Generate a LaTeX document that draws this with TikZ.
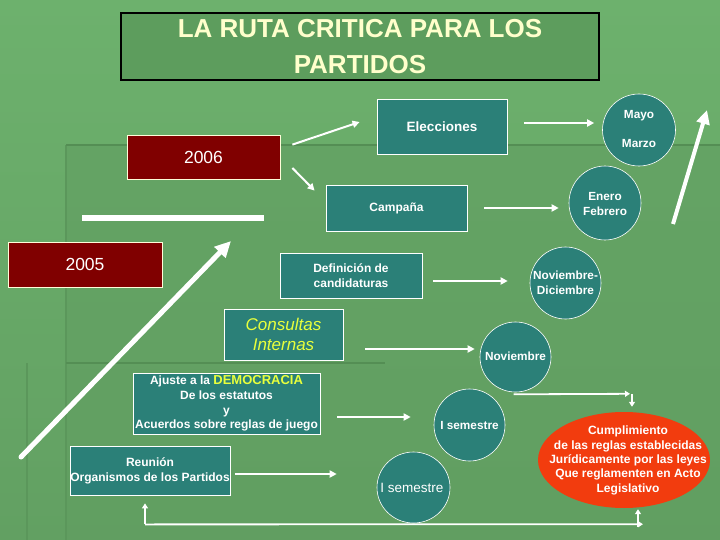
\documentclass[tikz,border=0pt]{standalone}
\usepackage{fontspec}
\setmainfont{Liberation Sans}
\usetikzlibrary{arrows.meta,shapes.geometric,calc}
\definecolor{bgtop}{HTML}{6DB16D}
\definecolor{bgbot}{HTML}{62A062}
\definecolor{panelc}{HTML}{619E61}
\definecolor{darkline}{HTML}{548E54}
\definecolor{fainted}{HTML}{5B975B}
\definecolor{tealbox}{HTML}{2B8078}
\definecolor{dred}{HTML}{800000}
\definecolor{rojo}{HTML}{F23C0E}
\definecolor{cream}{HTML}{FFFFCC}
\definecolor{yel}{HTML}{E8FF3C}
\definecolor{titlebg}{HTML}{5D9D5D}
\begin{document}
\begin{tikzpicture}[x=1pt,y=-1pt,
  titlebox/.style={draw=black, line width=2.5pt, fill=titlebg, minimum width=478pt, minimum height=67pt, inner sep=0pt, text=cream, align=center, font=\bfseries\fontsize{26}{36}\selectfont},
  box/.style={draw=white, line width=0.8pt, fill=tealbox, inner sep=0pt, text=white, align=center, font=\bfseries\fontsize{12}{15}\selectfont},
  yearbox/.style={draw=white!85!yellow, line width=0.8pt, fill=dred, text=white, inner sep=0pt, font=\fontsize{17.5}{20}\selectfont},
  ell/.style={ellipse, draw=white, line width=0.6pt, fill=tealbox, inner sep=0pt},
  etxt/.style={text=white, align=center, inner sep=0pt, font=\bfseries\fontsize{11.8}{15}\selectfont},
  arr/.style={draw=white, line width=2pt, -{Triangle[length=7pt,width=7pt]}},
  arrs/.style={draw=white, line width=1.8pt, -{Triangle[length=5pt,width=6pt]}},
  plain/.style={draw=white, line width=1.8pt},
]
% background
\useasboundingbox (0,0) rectangle (720,540);
\shade[top color=bgtop, bottom color=bgbot] (0,0) rectangle (720,540);
\fill[panelc, opacity=0.6] (66,145) rectangle (720,540);
\draw[fainted, line width=1.5pt] (66,145) -- (66,540);
\draw[fainted, line width=1.2pt] (27,363) -- (27,540);
\draw[darkline, line width=2.5pt] (66,145) -- (720,145);
\draw[darkline, line width=2pt] (66,363) -- (385,363);

% title
\node[titlebox] (title) at (360,46.5) {LA RUTA CRITICA PARA LOS\\PARTIDOS};

% year boxes
\node[yearbox, minimum width=153pt, minimum height=44pt] (y2006) at (203.5,157) {2006};
\node[yearbox, minimum width=154pt, minimum height=45pt] (y2005) at (85,264.5) {2005};

% activity boxes
\node[box, minimum width=130pt, minimum height=55pt, font=\bfseries\fontsize{13.5}{16}\selectfont] (elec) at (442,126.5) {Elecciones};
\node[box, minimum width=141pt, minimum height=46pt] (camp) at (396.5,208) {Campaña};
\node[box, minimum width=142pt, minimum height=45pt] (defi) at (351,275.5) {Definición de\\candidaturas};
\node[box, minimum width=119pt, minimum height=51pt, text=yel, font=\itshape\fontsize{17}{19.5}\selectfont] (cons) at (283.5,334.5) {Consultas\\Internas};
\node[box, minimum width=187pt, minimum height=61pt, font=\bfseries\fontsize{12}{14.7}\selectfont] (ajus) at (226.5,403.5) {Ajuste a la {\fontsize{13}{14.7}\selectfont\textcolor{yel}{DEMOCRACIA}}\\De los estatutos\\y\\Acuerdos sobre reglas de juego};
\node[box, minimum width=160pt, minimum height=49pt] (reun) at (150,470.5) {Reunión\\Organismos de los Partidos};

% ellipses
\node[ell, minimum width=73pt, minimum height=72pt] (mayo) at (639,130) {};
\node[etxt] (mayot) at (639,116) {Mayo};
\node[etxt] (marzot) at (639,144) {Marzo};
\node[ell, minimum width=72pt, minimum height=74pt] (enero) at (605,203) {};
\node[etxt] (enerot) at (605,203.5) {Enero\\Febrero};
\node[ell, minimum width=71pt, minimum height=72pt] (novdic) at (565.5,283) {};
\node[etxt] (novdict) at (565.5,282.5) {Noviembre-\\Diciembre};
\node[ell, minimum width=71pt, minimum height=70pt] (nov) at (515.5,357) {};
\node[etxt] (novt) at (515.5,356) {Noviembre};
\node[ell, minimum width=71pt, minimum height=72pt] (isem1) at (469.5,425) {};
\node[etxt] (isem1t) at (469.5,425) {I semestre};
\node[ell, minimum width=73pt, minimum height=71pt] (isem2) at (413.5,487.5) {};
\node[etxt, font=\fontsize{13.5}{16}\selectfont] (isem2t) at (412,488) {I semestre};
\node[ellipse, fill=rojo, inner sep=0pt, minimum width=172pt, minimum height=96pt] (red) at (624,460) {};
\node[etxt, font=\bfseries\fontsize{12}{14.3}\selectfont] (redt) at (628,460.5) {Cumplimiento\\de las reglas establecidas\\Jurídicamente por las leyes\\Que reglamenten en Acto\\Legislativo};

% short arrows
\draw[arr] ($(y2006.north east)+(12,10)$) -- ($(elec.west)+(-17,-4.5)$);
\draw[arr] ($(y2006.east)+(12,11)$) -- ($(camp.north west)+(-11,6)$);
\draw[arr] ($(elec.east)+(17,-3.5)$) -- ($(mayo.west)+(-8,-7)$);
\draw[arr] ($(camp.east)+(17,0)$) -- ($(enero.west)+(-10,5)$);
\draw[arr] ($(defi.east)+(11,5.5)$) -- ($(novdic.west)+(-22,-2)$);
\draw[arr] ($(cons.east)+(22,14.5)$) -- ($(nov.west)+(-5,-8)$);
\draw[arr] ($(ajus.east)+(17,13.5)$) -- ($(isem1.west)+(-23,-8)$);
\draw[arr] ($(reun.east)+(5,3.5)$) -- ($(isem2.west)+(-40,-13.5)$);

% Noviembre -> Cumplimiento
\draw[arrs] ($(nov.south)+(-2,2)$) -- ($(red.north)+(6,-18)$);
\draw[arrs] ($(red.north)+(8,-18)$) -- ($(red.north)+(8,-5)$);

% bottom feedback loop
\draw[arrs] ($(reun.south)+(-5,29)$) -- ($(reun.south)+(-5,8)$);
\draw[arrs] ($(reun.south)+(-5,29)$) -- ($(red.south)+(19,16)$);
\draw[arrs] ($(red.south)+(14,19)$) -- ($(red.south)+(14,1)$);

% big strokes
\coordinate (d1) at (21,457);
\coordinate (d2) at (231,241);
\draw[white, line width=5pt, line cap=round, -{Triangle[length=16pt,width=15pt]}] (d1) -- (d2);
\coordinate (b1) at (82,218);
\coordinate (b2) at (264,218);
\draw[white, line width=5.5pt] (b1) -- (b2);
\coordinate (r1) at (673,224);
\coordinate (r2) at (707,110);
\draw[white, line width=4pt, -{Triangle[length=14pt,width=13pt]}] (r1) -- (r2);
\end{tikzpicture}
\end{document}
